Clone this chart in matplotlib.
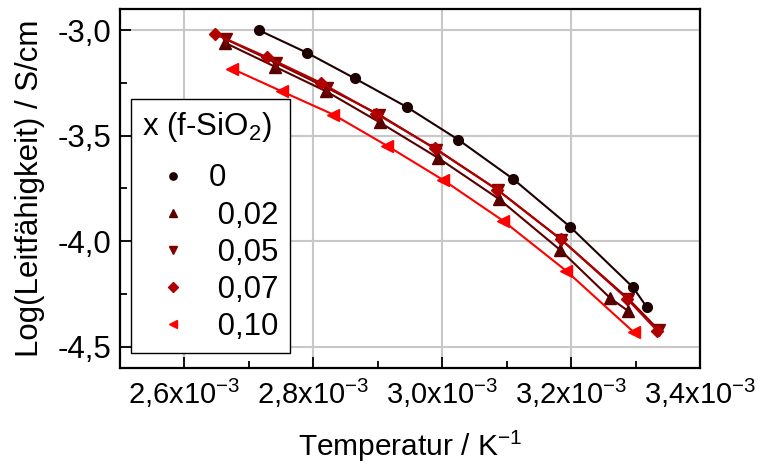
import numpy as np
import matplotlib
matplotlib.use('Agg')
import matplotlib.pyplot as plt

plt.rcParams['font.family'] = ['Liberation Sans', 'DejaVu Sans']
plt.rcParams['mathtext.fontset'] = 'custom'
plt.rcParams['mathtext.rm'] = 'Liberation Sans'
plt.rcParams['mathtext.it'] = 'Liberation Sans'
plt.rcParams['mathtext.default'] = 'regular'

# inverse temperature (in 10^-3 / K) and log conductivity per composition
x_0 = [2.716, 2.790, 2.864, 2.945, 3.025, 3.110, 3.199, 3.296, 3.317]
y_0 = [-3.001, -3.107, -3.228, -3.364, -3.519, -3.705, -3.933, -4.218, -4.310]

x_002 = [2.663, 2.741, 2.820, 2.903, 2.994, 3.088, 3.183, 3.261, 3.288]
y_002 = [-3.060, -3.174, -3.290, -3.437, -3.606, -3.800, -4.041, -4.270, -4.329]

x_005 = [2.665, 2.742, 2.821, 2.902, 2.991, 3.087, 3.185, 3.289, 3.336]
y_005 = [-3.044, -3.155, -3.273, -3.400, -3.566, -3.759, -3.993, -4.273, -4.420]

x_007 = [2.648, 2.728, 2.812, 2.897, 2.989, 3.085, 3.184, 3.287, 3.334]
y_007 = [-3.020, -3.128, -3.250, -3.395, -3.560, -3.755, -3.990, -4.273, -4.425]

x_010 = [2.674, 2.751, 2.831, 2.914, 3.001, 3.094, 3.192, 3.297]
y_010 = [-3.183, -3.290, -3.400, -3.547, -3.709, -3.902, -4.139, -4.430]

labels = ['0', ' 0,02', ' 0,05', ' 0,07', ' 0,10']

xticks = [2.6, 2.8, 3.0, 3.2, 3.4]
xtick_labels = ['2,6x10$^{-3}$', '2,8x10$^{-3}$', '3,0x10$^{-3}$', '3,2x10$^{-3}$', '3,4x10$^{-3}$']
yticks = [-3.0, -3.5, -4.0, -4.5]
ytick_labels = ['-3,0', '-3,5', '-4,0', '-4,5']

series = [(x_0, y_0), (x_002, y_002), (x_005, y_005), (x_007, y_007), (x_010, y_010)]
colors = ['#1e0000', '#580000', '#800000', '#b00000', '#ff0000']
markers = ['o', '^', 'v', 'D', '<']
msizes = [7, 8, 8, 6.2, 8]

fs = 22.5

fig = plt.figure(figsize=(7.58, 4.69), dpi=100)
ax = fig.add_axes([0.1583, 0.2154, 0.7652, 0.7654])

for (xs, ys), c, m, ms, lab in zip(series, colors, markers, msizes, labels):
    ax.plot(np.array(xs) * 1e-3, ys, color=c, lw=1.5)
    ax.plot(np.array(xs) * 1e-3, ys, ls='none', marker=m, color=c, ms=ms, label=lab)

ax.set_xlim(2.5e-3, 3.4e-3)
ax.set_ylim(-4.6, -2.9)
ax.set_xticks(np.array(xticks) * 1e-3)
ax.set_xticklabels(xtick_labels)
ax.set_xticks(np.array([2.5, 2.7, 2.9, 3.1, 3.3]) * 1e-3, minor=True)
ax.set_yticks(yticks)
ax.set_yticklabels(ytick_labels)
ax.set_yticks([-3.25, -3.75, -4.25], minor=True)

ax.grid(True, which='major', color='#c8c8c8', lw=1.5)
ax.set_axisbelow(True)
for s in ax.spines.values():
    s.set_linewidth(1.6)
ax.tick_params(which='major', direction='in', length=8, width=1.3, labelsize=fs, pad=6)
ax.tick_params(which='minor', direction='in', length=5, width=1.3)
ax.tick_params(axis='x', which='major', pad=6, labelsize=21)

ax.set_xlabel('Temperatur / K$^{-1}$', fontsize=21.5, labelpad=14)
ax.set_ylabel('Log(Leitfähigkeit) / S/cm', fontsize=fs, labelpad=9)

leg = ax.legend(title='x (f-SiO$_2$)', loc='upper left', bbox_to_anchor=(0.019, 0.749),
                fontsize=fs, title_fontsize=fs, frameon=True, fancybox=False,
                edgecolor='black', framealpha=1, borderpad=0.35, labelspacing=0.23,
                handletextpad=0.15, handlelength=2.0, markerscale=0.75, borderaxespad=0)
leg.get_frame().set_linewidth(1.0)
leg._legend_box.align = 'left'
leg._legend_box.sep = 14

fig.savefig('out.png', dpi=100)
